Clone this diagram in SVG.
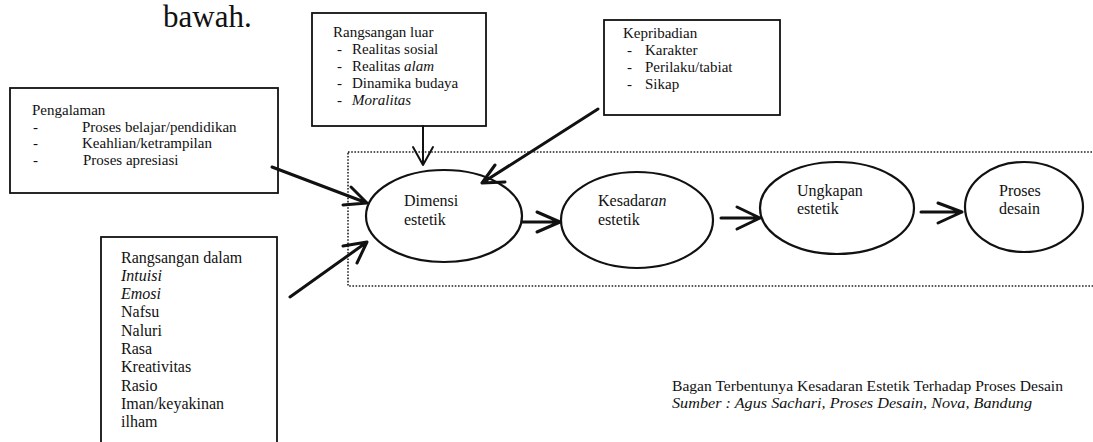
<svg xmlns="http://www.w3.org/2000/svg" width="1093" height="442" viewBox="0 0 1093 442">
<style>
text{font-family:"Liberation Serif",Tinos,"Times New Roman","DejaVu Serif",serif;fill:#111;}
.s15{font-size:15px;}
.s16{font-size:16px;}
.i{font-style:italic;}
.box{fill:#fff;stroke:#111;stroke-width:1.8;}
.ell{fill:#fff;stroke:#111;stroke-width:2.2;}
.ln{fill:none;stroke:#111;stroke-width:3;stroke-linecap:round;stroke-linejoin:round;}
.ln2{fill:none;stroke:#111;stroke-width:2;stroke-linecap:round;stroke-linejoin:round;}
.dot{fill:none;stroke:#222;stroke-width:1.6;stroke-dasharray:1.6 1.6;}
</style>
<rect width="1093" height="442" fill="#fff"/>
<text x="163" y="27" font-size="31">bawah.</text>

<g id="frame">
<rect class="dot" x="348" y="152" width="760" height="134"/>
</g>

<g id="pengalaman">
<rect class="box" x="10" y="88" width="268" height="105"/>
<text class="s15" x="32" y="115">Pengalaman</text>
<text class="s15" x="33" y="132">-</text><text class="s15" x="82" y="132">Proses belajar/pendidikan</text>
<text class="s15" x="33" y="148">-</text><text class="s15" x="82" y="148">Keahlian/ketrampilan</text>
<text class="s15" x="33" y="165">-</text><text class="s15" x="83" y="165">Proses apresiasi</text>
</g>

<g id="rangsangan-luar">
<rect class="box" x="312" y="13" width="174" height="113"/>
<text class="s15" x="333" y="37">Rangsangan luar</text>
<text class="s15" x="337" y="54">-</text><text class="s15" x="352" y="54">Realitas sosial</text>
<text class="s15" x="337" y="71">-</text><text class="s15" x="352" y="71">Realitas <tspan class="i">alam</tspan></text>
<text class="s15" x="337" y="88">-</text><text class="s15" x="352" y="88">Dinamika budaya</text>
<text class="s15" x="337" y="105">-</text><text class="s15 i" x="352" y="105">Moralitas</text>
</g>

<g id="kepribadian">
<rect class="box" x="604" y="20" width="176" height="95"/>
<text class="s15" x="623" y="38">Kepribadian</text>
<text class="s15" x="627" y="55">-</text><text class="s15" x="645" y="55">Karakter</text>
<text class="s15" x="627" y="72">-</text><text class="s15" x="645" y="72">Perilaku/tabiat</text>
<text class="s15" x="627" y="89">-</text><text class="s15" x="645" y="89">Sikap</text>
</g>

<g id="rangsangan-dalam">
<rect class="box" x="101" y="237" width="176" height="215"/>
<text class="s16" x="121" y="263">Rangsangan dalam</text>
<text class="s16 i" x="121" y="281">Intuisi</text>
<text class="s16 i" x="121" y="299">Emosi</text>
<text class="s16" x="121" y="317">Nafsu</text>
<text class="s16" x="121" y="336">Naluri</text>
<text class="s16" x="121" y="354">Rasa</text>
<text class="s16" x="121" y="372">Kreativitas</text>
<text class="s16" x="121" y="391">Rasio</text>
<text class="s16" x="121" y="409">Iman/keyakinan</text>
<text class="s16" x="121" y="427">ilham</text>
</g>

<g id="dimensi-estetik">
<ellipse class="ell" cx="444" cy="216" rx="78" ry="46"/>
<text class="s16" x="404" y="206">Dimensi</text>
<text class="s16" x="404" y="225">estetik</text>
</g>

<g id="kesadaran-estetik">
<ellipse class="ell" cx="637" cy="220" rx="76" ry="48"/>
<text class="s16" x="598" y="206">Kesadar<tspan class="i">an</tspan></text>
<text class="s16" x="598" y="225">estetik</text>
</g>

<g id="ungkapan-estetik">
<ellipse class="ell" cx="837" cy="208" rx="77" ry="46"/>
<text class="s16" x="797" y="196">Ungkapan</text>
<text class="s16" x="797" y="214">estetik</text>
</g>

<g id="proses-desain">
<ellipse class="ell" cx="1024" cy="207" rx="59" ry="45"/>
<text class="s16" x="999" y="196">Proses</text>
<text class="s16" x="999" y="214">desain</text>
</g>

<g id="connectors">
<path class="ln2" d="M423 126 V165 M413 147 L423 165 L433 147"/>
<path class="ln" d="M598 109 L482 183 M495 165 L482 183 L505 182"/>
<path class="ln" d="M272 167 L367 203 M351 187 L367 203 L343 205"/>
<path class="ln" d="M290 297 L367 242 M343 246 L367 242 L357 263"/>
<path class="ln" d="M522 222 H560 M537 212 L560 222 L537 232"/>
<path class="ln" d="M721 218 H760 M737 207 L760 218 L737 229"/>
<path class="ln" d="M921 212 H962 M938 203 L962 212 L938 223"/>
</g>

<g id="caption">
<text x="672" y="391" font-size="14.5" textLength="391" lengthAdjust="spacingAndGlyphs">Bagan Terbentunya Kesadaran Estetik Terhadap Proses Desain</text>
<text class="i" x="672" y="408" font-size="14.5" textLength="360" lengthAdjust="spacingAndGlyphs">Sumber : Agus Sachari, Proses Desain, Nova, Bandung</text>
</g>
</svg>
